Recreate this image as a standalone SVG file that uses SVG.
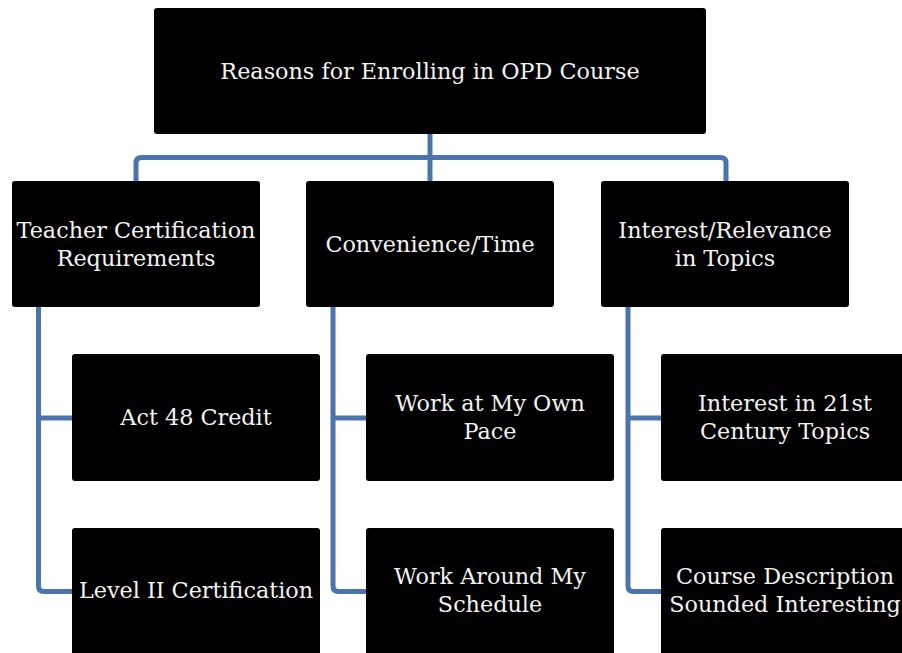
<svg xmlns="http://www.w3.org/2000/svg" width="902" height="653" viewBox="0 0 902 653">
  <style>
    .box { fill: #000; }
    .lbl { fill: #f2f2f2; font-family: "DejaVu Serif", "Liberation Serif", serif; font-size: 22.3px; text-anchor: middle; }
    .wire { fill: none; stroke: #4a74ad; stroke-width: 5; stroke-linejoin: round; }
  </style>
  <rect width="902" height="653" fill="#fff"/>

  <!-- connectors -->
  <g id="connectors">
    <path class="wire" d="M430,134 V157.5"/>
    <path class="wire" d="M136,181 V163 Q136,157.5 141.5,157.5 H720.5 Q726,157.5 726,163 V181"/>
    <path class="wire" d="M430,157.5 V181"/>
    <path class="wire" d="M38.5,307 V586 Q38.5,591.5 44,591.5 H72"/>
    <path class="wire" d="M38.5,418 H72"/>
    <path class="wire" d="M333,307 V586 Q333,591.5 338.5,591.5 H366"/>
    <path class="wire" d="M333,418 H366"/>
    <path class="wire" d="M628,307 V586 Q628,591.5 633.5,591.5 H661"/>
    <path class="wire" d="M628,418 H661"/>
  </g>

  <g id="root">
    <rect class="box" x="154" y="8" width="552" height="126" rx="3"/>
    <text class="lbl" x="430" y="79">Reasons for Enrolling in OPD Course</text>
  </g>

  <g id="teacher-cert">
    <rect class="box" x="12" y="181" width="248" height="126" rx="3"/>
    <text class="lbl" x="136" y="238">Teacher Certification</text>
    <text class="lbl" x="136" y="266">Requirements</text>
  </g>
  <g id="convenience">
    <rect class="box" x="306" y="181" width="248" height="126" rx="3"/>
    <text class="lbl" x="430" y="252">Convenience/Time</text>
  </g>
  <g id="interest">
    <rect class="box" x="601" y="181" width="248" height="126" rx="3"/>
    <text class="lbl" x="725" y="238">Interest/Relevance</text>
    <text class="lbl" x="725" y="266">in Topics</text>
  </g>

  <g id="act48">
    <rect class="box" x="72" y="354" width="248" height="127" rx="3"/>
    <text class="lbl" x="196" y="425">Act 48 Credit</text>
  </g>
  <g id="level2">
    <rect class="box" x="72" y="528" width="248" height="127" rx="3"/>
    <text class="lbl" x="196" y="598">Level II Certification</text>
  </g>
  <g id="own-pace">
    <rect class="box" x="366" y="354" width="248" height="127" rx="3"/>
    <text class="lbl" x="490" y="411">Work at My Own</text>
    <text class="lbl" x="490" y="439">Pace</text>
  </g>
  <g id="schedule">
    <rect class="box" x="366" y="528" width="248" height="127" rx="3"/>
    <text class="lbl" x="490" y="584">Work Around My</text>
    <text class="lbl" x="490" y="612">Schedule</text>
  </g>
  <g id="topics21">
    <rect class="box" x="661" y="354" width="248" height="127" rx="3"/>
    <text class="lbl" x="785" y="411">Interest in 21st</text>
    <text class="lbl" x="785" y="439">Century Topics</text>
  </g>
  <g id="description">
    <rect class="box" x="661" y="528" width="248" height="127" rx="3"/>
    <text class="lbl" x="785" y="584">Course Description</text>
    <text class="lbl" x="785" y="612">Sounded Interesting</text>
  </g>
</svg>
